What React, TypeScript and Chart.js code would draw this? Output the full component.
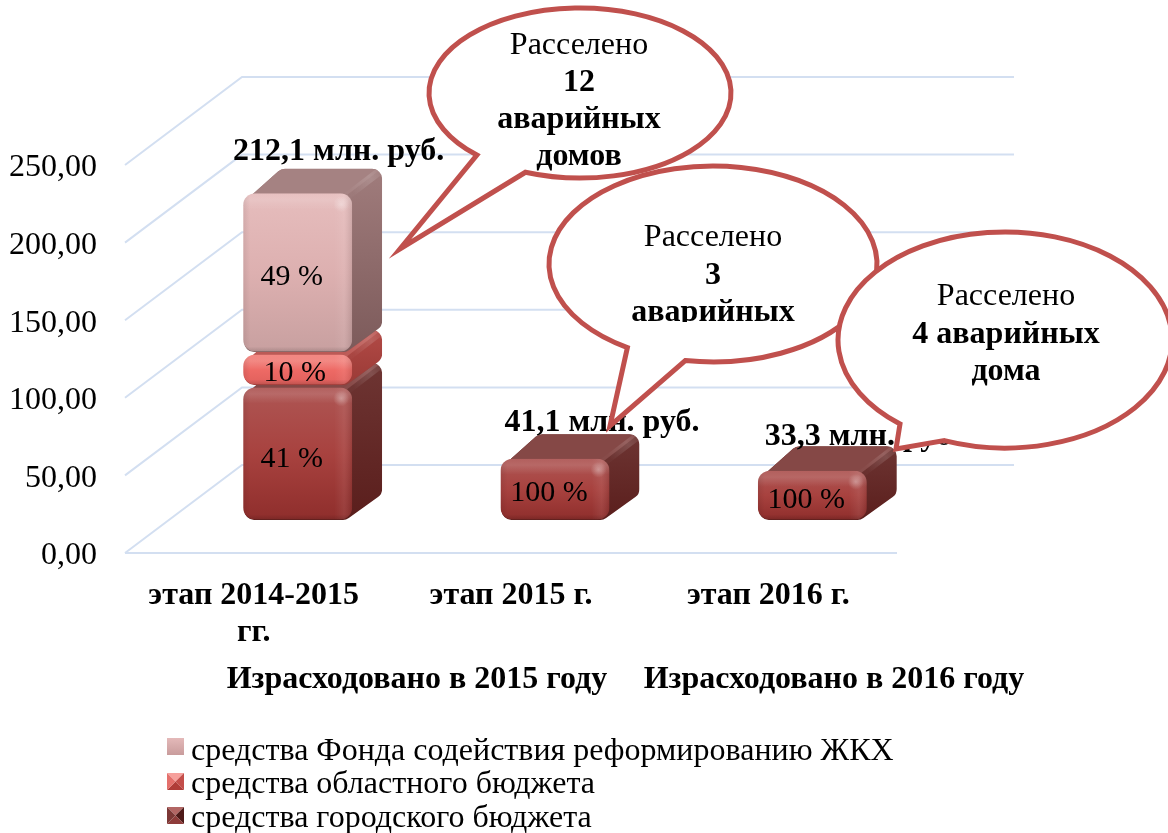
import React, { useEffect, useRef } from "react";
import { Chart, registerables } from "chart.js";

Chart.register(...registerables);

const FONT = "'Liberation Serif', serif";

const categories = [["этап 2014-2015", "гг."], "этап 2015 г.", "этап 2016 г."];
const cityBudget = [87.0, 41.1, 33.3];
const regionBudget = [21.2, null, null];
const fundMoney = [103.9, null, null];
const cityPercent = ["41 %", "100 %", "100 %"];
const regionPercent = ["10 %", "", ""];
const fundPercent = ["49 %", "", ""];
const totals = ["212,1 млн. руб.", "41,1 млн. руб.", "33,3 млн. руб."];
const seriesNames = [
  "средства Фонда содействия реформированию ЖКХ",
  "средства областного бюджета",
  "средства городского бюджета",
];
const spendTitles = ["Израсходовано в 2015 году", "Израсходовано в 2016 году"];
const callout1 = ["Расселено", "12", "аварийных", "домов"];
const callout2 = ["Расселено", "3", "аварийных"];
const callout3 = ["Расселено", "4 аварийных", "дома"];

// 3D projection of the Excel-like chart
const WALL_DX = 117;
const WALL_DY = 88;
const BAR_DX = 44;
const BAR_DY = 32;
const DEPTH_X = 30;
const DEPTH_Y = 23;
const GRID = "#D3DFF1";

type Skin = {
  front: string[];
  top: string;
  side: [string, string];
};
const skins: Skin[] = [
  { front: ["#AE5654", "#A8423F", "#8F2E2C"], top: "#854846", side: ["#6E3533", "#5A1E1C"] },
  { front: ["#F2807A", "#EE6A65", "#E0605C"], top: "#BC5A56", side: ["#B24A46", "#9A3A36"] },
  { front: ["#E6BDBD", "#DDB0B0", "#C8A0A0"], top: "#A58282", side: ["#A07C7C", "#7C5A5A"] },
];

function roundedPoly(ctx: CanvasRenderingContext2D, pts: number[][], r: number) {
  const n = pts.length;
  ctx.beginPath();
  const m = [(pts[n - 1][0] + pts[0][0]) / 2, (pts[n - 1][1] + pts[0][1]) / 2];
  ctx.moveTo(m[0], m[1]);
  for (let i = 0; i < n; i++) {
    const a = pts[i];
    const b = pts[(i + 1) % n];
    ctx.arcTo(a[0], a[1], b[0], b[1], r);
  }
  ctx.closePath();
}

function eachBar(chart: any, fn: (el: any, ds: number, i: number) => void) {
  chart.data.datasets.forEach((d: any, ds: number) => {
    chart.getDatasetMeta(ds).data.forEach((el: any, i: number) => {
      if (d.data[i] != null) fn(el, ds, i);
    });
  });
}

function rectOf(el: any) {
  const p = el.getProps(["x", "y", "base", "width"], true);
  return { x0: p.x - p.width / 2, x1: p.x + p.width / 2, y0: p.y, y1: p.base };
}

const barPlugin = {
  id: "bars3d",
  beforeDatasetsDraw(chart: any) {
    const ctx: CanvasRenderingContext2D = chart.ctx;
    ctx.save();
    ctx.translate(BAR_DX, -BAR_DY);
    eachBar(chart, (el, ds) => {
      const { x0, x1, y0, y1 } = rectOf(el);
      const s = skins[ds];
      const r = Math.min(10, (y1 - y0) / 2.5);
      const top = y0 - DEPTH_Y;
      const right = x1 + DEPTH_X;
      ctx.save();
      // silhouette of the whole box behind the front face
      roundedPoly(ctx, [
        [x0 + 1, y0 + 10], [x0 + DEPTH_X + 8, top], [right, top],
        [right, y1 - DEPTH_Y - 4], [x1 - 6, y1 - 1], [x0 + 1, y1 - 1],
      ], r);
      ctx.clip();
      const gs = ctx.createLinearGradient(0, top, 0, y1);
      gs.addColorStop(0, s.side[0]);
      gs.addColorStop(1, s.side[1]);
      ctx.fillStyle = gs;
      ctx.fillRect(x0, top, right - x0, y1 - top);
      // top face
      ctx.fillStyle = s.top;
      ctx.beginPath();
      ctx.moveTo(x0 - 2, y0 + 10);
      ctx.lineTo(x0 + DEPTH_X, top - 6);
      ctx.lineTo(right + 6, top - 6);
      ctx.lineTo(right - 6, top + 4);
      ctx.lineTo(x1 - 6, y0 + 4);
      ctx.closePath();
      ctx.fill();
      // soft lit edge between the top and side faces
      const ge = ctx.createLinearGradient(x1, y0, right, top);
      ge.addColorStop(0, "rgba(255,255,255,0.02)");
      ge.addColorStop(0.6, "rgba(255,255,255,0.14)");
      ge.addColorStop(1, "rgba(255,255,255,0.03)");
      ctx.strokeStyle = ge;
      ctx.lineWidth = 8;
      ctx.beginPath();
      ctx.moveTo(x1 - 6, y0 + 5);
      ctx.lineTo(right - 2, top + 2);
      ctx.stroke();
      ctx.restore();
    });
  },
  afterDatasetsDraw(chart: any) {
    const ctx: CanvasRenderingContext2D = chart.ctx;
    // bevel on the front faces, in the same translated space as the bars
    eachBar(chart, (el, ds) => {
      const { x0, x1, y0, y1 } = rectOf(el);
      const iy0 = y0 + 1.5;
      const iy1 = y1 - 1.5;
      const r = Math.min(12, (iy1 - iy0) / 2.5);
      const s = skins[ds];
      ctx.save();
      ctx.beginPath();
      ctx.roundRect(x0, iy0, x1 - x0, iy1 - iy0, r);
      ctx.clip();
      const g = ctx.createLinearGradient(0, iy0, 0, iy1);
      g.addColorStop(0, s.front[0]);
      g.addColorStop(0.5, s.front[1]);
      g.addColorStop(1, s.front[2]);
      ctx.fillStyle = g;
      ctx.fillRect(x0, iy0, x1 - x0, iy1 - iy0);
      const topBand = ctx.createLinearGradient(0, iy0, 0, iy0 + 16);
      topBand.addColorStop(0, "rgba(255,255,255,0.06)");
      topBand.addColorStop(0.4, "rgba(255,255,255,0.13)");
      topBand.addColorStop(1, "rgba(255,255,255,0)");
      ctx.fillStyle = topBand;
      ctx.fillRect(x0, iy0, x1 - x0, 16);
      const rightBand = ctx.createLinearGradient(x1 - 18, 0, x1, 0);
      rightBand.addColorStop(0, "rgba(255,255,255,0)");
      rightBand.addColorStop(0.55, "rgba(255,255,255,0.07)");
      rightBand.addColorStop(1, "rgba(0,0,0,0.10)");
      ctx.fillStyle = rightBand;
      ctx.fillRect(x1 - 18, iy0, 18, iy1 - iy0);
      const leftBand = ctx.createLinearGradient(x0, 0, x0 + 7, 0);
      leftBand.addColorStop(0, "rgba(0,0,0,0.08)");
      leftBand.addColorStop(1, "rgba(0,0,0,0)");
      ctx.fillStyle = leftBand;
      ctx.fillRect(x0, iy0, 7, iy1 - iy0);
      const bottomBand = ctx.createLinearGradient(0, iy1 - 5, 0, iy1);
      bottomBand.addColorStop(0, "rgba(0,0,0,0)");
      bottomBand.addColorStop(1, "rgba(0,0,0,0.14)");
      ctx.fillStyle = bottomBand;
      ctx.fillRect(x0, iy1 - 5, x1 - x0, 5);
      if (iy1 - iy0 > 40) {
        const spot = ctx.createRadialGradient(x1 - 11, iy0 + 11, 0, x1 - 11, iy0 + 11, 8);
        spot.addColorStop(0, "rgba(255,255,255,0.32)");
        spot.addColorStop(1, "rgba(255,255,255,0)");
        ctx.fillStyle = spot;
        ctx.fillRect(x1 - 22, iy0, 22, 22);
      }
      ctx.restore();
    });
    // percent labels on the bars
    ctx.fillStyle = "#000";
    ctx.textAlign = "center";
    ctx.textBaseline = "middle";
    ctx.font = `30px ${FONT}`;
    const percents = [cityPercent, regionPercent, fundPercent];
    const dxs = [-6, -3, -6];
    const dys = [[6, 4, 5], [4], [5]];
    eachBar(chart, (el, ds, i) => {
      const { x0, x1, y0, y1 } = rectOf(el);
      ctx.fillText(percents[ds][i], (x0 + x1) / 2 + dxs[ds], (y0 + y1) / 2 + dys[ds][i]);
    });
    ctx.restore(); // matches the save in beforeDatasetsDraw

    // totals above the stacks
    const y = chart.scales.y;
    const x = chart.scales.x;
    ctx.fillStyle = "#000";
    ctx.font = `bold 32px ${FONT}`;
    ctx.textAlign = "center";
    ctx.textBaseline = "middle";
    const labelShift = [[85, -40], [91, -34], [94, -33]];
    totals.forEach((t, i) => {
      const sum = (cityBudget[i] || 0) + (regionBudget[i] || 0) + (fundMoney[i] || 0);
      ctx.fillText(t, x.getPixelForValue(i) + labelShift[i][0], y.getPixelForValue(sum) - BAR_DY + labelShift[i][1]);
    });
  },
};

const wallPlugin = {
  id: "walls",
  beforeDraw(chart: any) {
    const ctx: CanvasRenderingContext2D = chart.ctx;
    const { left, right } = chart.chartArea;
    const y = chart.scales.y;
    ctx.save();
    ctx.strokeStyle = GRID;
    ctx.lineWidth = 2;
    y.ticks.forEach((t: any) => {
      const py = y.getPixelForValue(t.value);
      ctx.beginPath();
      ctx.moveTo(left, py);
      ctx.lineTo(left + WALL_DX, py - WALL_DY);
      ctx.lineTo(right + WALL_DX, py - WALL_DY);
      ctx.stroke();
    });
    const py0 = y.getPixelForValue(0);
    ctx.beginPath();
    ctx.moveTo(left, py0);
    ctx.lineTo(right, py0);
    ctx.stroke();
    ctx.restore();
  },
};

function legendMarker(ctx: CanvasRenderingContext2D, x: number, y: number, s: number, c: string[]) {
  if (c.length === 2) {
    const g = ctx.createLinearGradient(0, y, 0, y + s);
    g.addColorStop(0, c[0]);
    g.addColorStop(1, c[1]);
    ctx.fillStyle = g;
    ctx.fillRect(x, y, s, s);
    return;
  }
  const cx = x + s / 2;
  const cy = y + s / 2;
  const corners = [[x, y], [x + s, y], [x + s, y + s], [x, y + s]];
  corners.forEach((p, i) => {
    const q = corners[(i + 1) % 4];
    ctx.fillStyle = c[i];
    ctx.beginPath();
    ctx.moveTo(p[0], p[1]);
    ctx.lineTo(q[0], q[1]);
    ctx.lineTo(cx, cy);
    ctx.closePath();
    ctx.fill();
  });
}

function bubble(
  ctx: CanvasRenderingContext2D,
  cx: number, cy: number, rx: number, ry: number,
  a: number[], tip: number[], b: number[],
) {
  const ang = (p: number[]) => Math.atan2((p[1] - cy) / ry, (p[0] - cx) / rx);
  ctx.beginPath();
  ctx.ellipse(cx, cy, rx, ry, 0, ang(a), ang(b), false);
  ctx.lineTo(tip[0], tip[1]);
  ctx.closePath();
  ctx.fillStyle = "#fff";
  ctx.fill();
  ctx.strokeStyle = "#C0504D";
  ctx.lineWidth = 5;
  ctx.lineJoin = "miter";
  ctx.stroke();
}

const overlayPlugin = {
  id: "overlay",
  afterDraw(chart: any) {
    const ctx: CanvasRenderingContext2D = chart.ctx;
    ctx.save();
    ctx.textAlign = "center";
    ctx.textBaseline = "middle";
    ctx.fillStyle = "#000";

    ctx.font = `bold 32px ${FONT}`;
    ctx.fillText(spendTitles[0], 417, 680);
    ctx.fillText(spendTitles[1], 834, 680);

    // legend
    ctx.textAlign = "left";
    ctx.font = `32px ${FONT}`;
    const rows = [752, 785, 819];
    const markY = [738, 773, 807];
    const marks = [
      ["#E4B9B9", "#C99C9C"],
      ["#F6A09C", "#C44E4A", "#B03C38", "#E4706C"],
      ["#B26664", "#4E1A18", "#8E3C3A", "#7C3836"],
    ];
    seriesNames.forEach((n, i) => {
      legendMarker(ctx, 167, markY[i], 17, marks[i]);
      ctx.fillStyle = "#000";
      ctx.fillText(n, 191, rows[i]);
    });

    ctx.textAlign = "center";
    const lineFont = (i: number) => `${i === 0 ? "" : "bold "}32px ${FONT}`;
    // callouts
    bubble(ctx, 580, 93, 151, 85, [477, 155], [400, 249], [527, 170]);
    ctx.fillStyle = "#000";
    callout1.forEach((t, i) => {
      ctx.font = lineFont(i);
      ctx.fillText(t, 579, 46 + i * 37);
    });

    bubble(ctx, 713, 264, 164, 98, [628, 347], [610, 426], [686, 358]);
    ctx.save();
    ctx.beginPath();
    ctx.rect(560, 200, 300, 122);
    ctx.clip();
    ctx.fillStyle = "#000";
    callout2.forEach((t, i) => {
      ctx.font = lineFont(i);
      ctx.fillText(t, 713, 238 + i * 37.5);
    });
    ctx.restore();

    bubble(ctx, 1005, 340, 167, 108, [900, 424], [896, 449], [955, 423]);
    ctx.fillStyle = "#000";
    callout3.forEach((t, i) => {
      ctx.font = lineFont(i);
      ctx.fillText(t, 1006, 297 + i * 37.5);
    });
    ctx.restore();
  },
};

const flat = (i: number) => skins[i].front[1];
const bevelShape = {
  borderRadius: { topLeft: 12, topRight: 12, bottomLeft: 12, bottomRight: 12 },
  borderSkipped: false,
  borderWidth: 0,
};

export default function App() {
  const ref = useRef<HTMLCanvasElement>(null);
  useEffect(() => {
    const chart = new Chart(ref.current!, {
      type: "bar",
      data: {
        labels: categories as any,
        datasets: [
          { label: seriesNames[2], data: cityBudget, backgroundColor: "rgba(0,0,0,0)", hoverBackgroundColor: flat(0), ...bevelShape },
          { label: seriesNames[1], data: regionBudget, backgroundColor: "rgba(0,0,0,0)", hoverBackgroundColor: flat(1), ...bevelShape },
          { label: seriesNames[0], data: fundMoney, backgroundColor: "rgba(0,0,0,0)", hoverBackgroundColor: flat(2), ...bevelShape },
        ] as any,
      },
      options: {
        animation: false,
        responsive: false,
        layout: { padding: { left: 0, top: 165, right: 271, bottom: 0 } },
        datasets: { bar: { barThickness: 109, clip: false } as any },
        plugins: { legend: { display: false }, tooltip: { enabled: false }, title: { display: false } },
        scales: {
          x: {
            stacked: true,
            grid: { display: false, drawTicks: false },
            border: { display: false },
            ticks: {
              color: "#000",
              font: { family: FONT, size: 32, weight: "bold", lineHeight: 1.16 },
              padding: 24,
              maxRotation: 0,
              minRotation: 0,
              autoSkip: false,
            },
            afterFit: (s: any) => { s.height = 280; },
          },
          y: {
            stacked: true,
            min: 0,
            max: 250,
            grid: { display: false, drawTicks: false },
            border: { display: false },
            ticks: {
              stepSize: 50,
              color: "#000",
              padding: 28,
              labelOffset: 3,
              font: { family: FONT, size: 32 },
              callback: (v: any) => Number(v).toFixed(2).replace(".", ","),
            },
            afterFit: (s: any) => { s.width = 125; },
          },
        },
      } as any,
      plugins: [wallPlugin, barPlugin, overlayPlugin],
    });
    return () => chart.destroy();
  }, []);
  return (
    <canvas
      ref={ref}
      width={1168}
      height={833}
      style={{ position: "absolute", left: 0, top: 0, display: "block" }}
    />
  );
}
